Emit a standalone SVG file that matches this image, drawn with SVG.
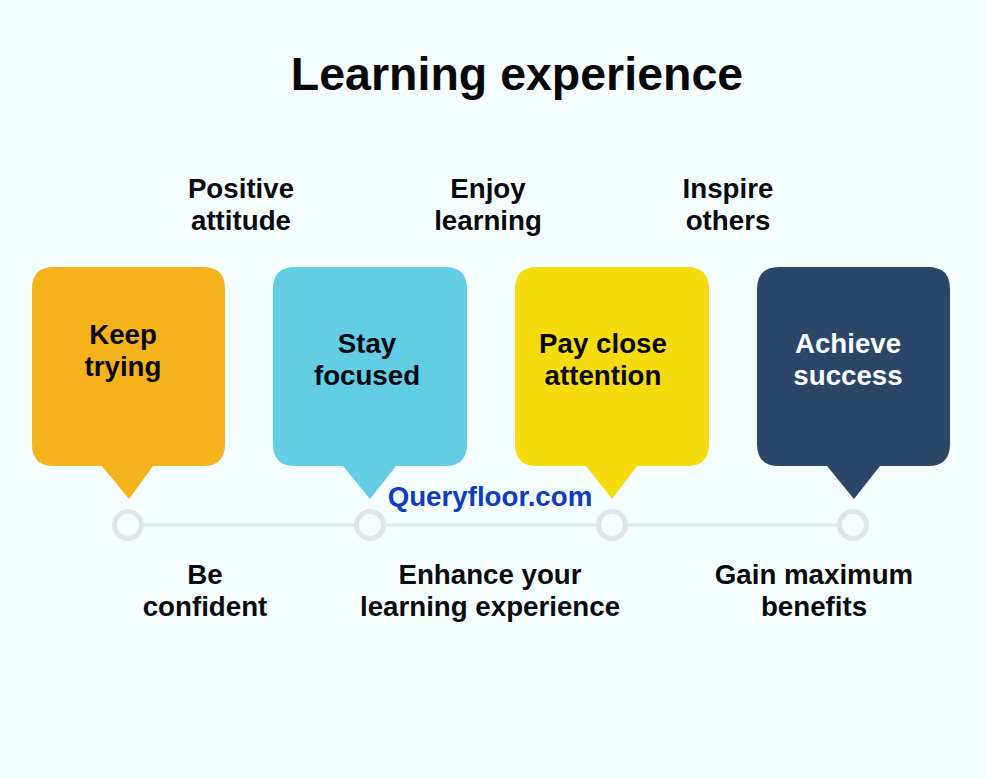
<svg xmlns="http://www.w3.org/2000/svg" width="986" height="778" viewBox="0 0 986 778">
<style>
text{font-family:"Liberation Sans",Arial,sans-serif;font-weight:700;text-anchor:middle}
.l{font-size:27.7px;fill:#0b0b0f}
.b{font-size:27.7px;fill:#07090f}
.w{font-size:27.7px;fill:#fbfdfe}
.dot{fill:#f5fdff;stroke:#dfe6ea;stroke-width:5}
.line{stroke:#dfe8ea;stroke-width:3;fill:none}
</style>
<rect width="986" height="778" fill="#f5feff"/>
<text id="title" x="517" y="90" fill="#08080c" style="font-size:46.5px">Learning experience</text>
<g id="connectors">
<path class="line" d="M143 525H354M385 525H596M627 525H838"/>
</g>
<g id="node-1">
<path fill="#f5b21a" d="M54 267H203Q225 267 225 289V444Q225 466 203 466H153L129 499L102 466H54Q32 466 32 444V289Q32 267 54 267Z"/>
<text class="b" x="123" y="344">Keep</text><text class="b" x="123" y="376">trying</text>
</g>
<g id="node-2">
<path fill="#62cde4" d="M295 267H445Q467 267 467 289V444Q467 466 445 466H396L370 499L343 466H295Q273 466 273 444V289Q273 267 295 267Z"/>
<text class="b" x="367" y="353">Stay</text><text class="b" x="367" y="385">focused</text>
</g>
<g id="node-3">
<path fill="#f6dc0e" d="M537 267H687Q709 267 709 289V444Q709 466 687 466H637L612 499L586 466H537Q515 466 515 444V289Q515 267 537 267Z"/>
<text class="b" x="603" y="353">Pay close</text><text class="b" x="603" y="385">attention</text>
</g>
<g id="node-4">
<path fill="#2b4669" d="M779 267H928Q950 267 950 289V444Q950 466 928 466H880L854 499L827 466H779Q757 466 757 444V289Q757 267 779 267Z"/>
<text class="w" x="848" y="353">Achieve</text><text class="w" x="848" y="385">success</text>
</g>
<g id="dot-1"><circle class="dot" cx="128" cy="525" r="13.5"/></g>
<g id="dot-2"><circle class="dot" cx="370" cy="525" r="13.5"/></g>
<g id="dot-3"><circle class="dot" cx="612" cy="525" r="13.5"/></g>
<g id="dot-4"><circle class="dot" cx="853" cy="525" r="13.5"/></g>
<g id="top-labels">
<text class="l" x="241" y="198">Positive</text><text class="l" x="241" y="230">attitude</text>
<text class="l" x="488" y="198">Enjoy</text><text class="l" x="488" y="230">learning</text>
<text class="l" x="728" y="198">Inspire</text><text class="l" x="728" y="230">others</text>
</g>
<g id="bottom-labels">
<text class="l" x="205" y="584">Be</text><text class="l" x="205" y="616">confident</text>
<text class="l" x="490" y="584">Enhance your</text><text class="l" x="490" y="616">learning experience</text>
<text class="l" x="814" y="584">Gain maximum</text><text class="l" x="814" y="616">benefits</text>
</g>
<text id="watermark" x="490" y="506" style="font-size:27.7px" fill="#0f3cc0">Queryfloor.com</text>
</svg>
